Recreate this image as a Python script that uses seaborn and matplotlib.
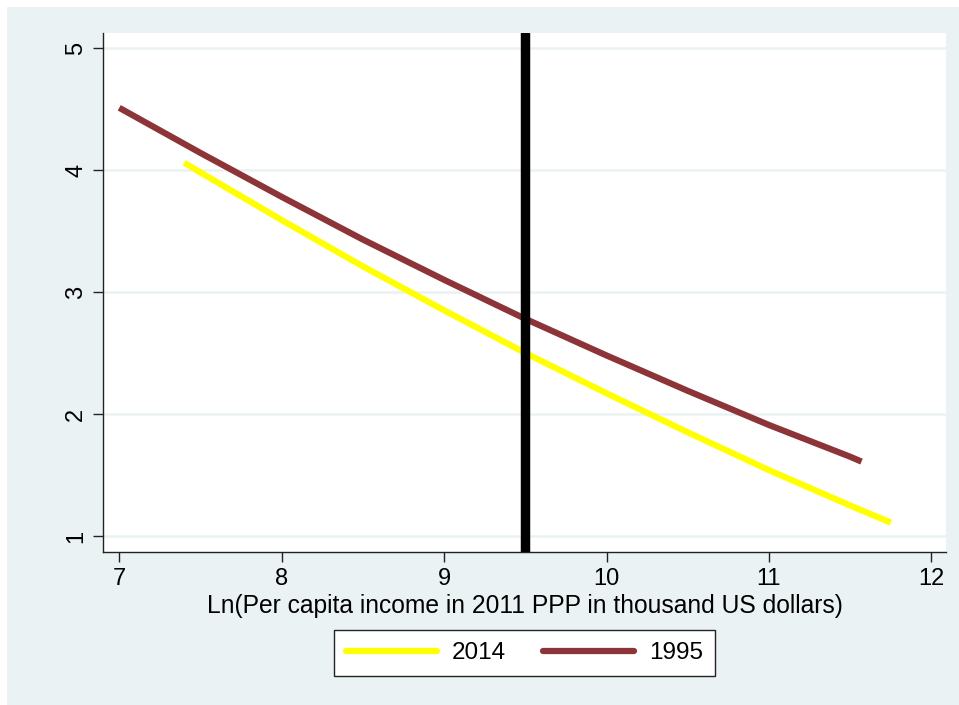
import numpy as np
import pandas as pd
import matplotlib
matplotlib.use("Agg")
import matplotlib.pyplot as plt
from matplotlib.patches import Rectangle
from matplotlib.lines import Line2D
import seaborn as sns

# Fitted curves: log per-capita income vs. outcome, by year
income_1995 = [7.00, 7.50, 8.00, 8.50, 9.00, 9.50, 10.00, 10.50, 11.00, 11.50, 11.57]
value_1995 = [4.51, 4.14, 3.78, 3.43, 3.10, 2.78, 2.48, 2.19, 1.91, 1.65, 1.61]

income_2014 = [7.40, 7.50, 8.00, 8.50, 9.00, 9.50, 10.00, 10.50, 11.00, 11.50, 11.75]
value_2014 = [4.06, 3.98, 3.59, 3.21, 2.85, 2.50, 2.17, 1.85, 1.54, 1.25, 1.11]

threshold = 9.5
x_ticks = [7, 8, 9, 10, 11, 12]
y_ticks = [1, 2, 3, 4, 5]
years = ["2014", "1995"]
colors = {"2014": "#FFFF00", "1995": "#8C3438"}

df = pd.concat([
    pd.DataFrame({"income": income_2014, "value": value_2014, "year": "2014"}),
    pd.DataFrame({"income": income_1995, "value": value_1995, "year": "1995"}),
])

sns.set_theme(style="white")
plt.rcParams["font.family"] = ["Liberation Sans", "DejaVu Sans"]
plt.rcParams["text.color"] = "black"
plt.rcParams["axes.labelcolor"] = "black"
plt.rcParams["xtick.color"] = "black"
plt.rcParams["ytick.color"] = "black"

W, H = 959, 705
fig = plt.figure(figsize=(W / 100, H / 100), dpi=100)
fig.patch.set_facecolor("white")
fig.patches.append(Rectangle((7 / W, 0), 1, (H - 7) / H, transform=fig.transFigure,
                             facecolor="#EAF2F3", edgecolor="none", zorder=-10))

ax = fig.add_axes([103 / W, 1 - 552 / H, (946 - 103) / W, (552 - 33) / H])
ax.set_zorder(1)
ax.set_facecolor("white")

sns.lineplot(data=df, x="income", y="value", hue="year", hue_order=years,
             palette=colors, linewidth=4.5, ax=ax, legend=False, sort=True,
             estimator=None, solid_capstyle="butt", solid_joinstyle="round", zorder=3)
ax.axvline(threshold, color="black", linewidth=6.8, zorder=4)

ax.set_xlim(6.90, 12.09)
ax.set_ylim(0.869, 5.123)
ax.set_xticks(x_ticks)
ax.set_yticks(y_ticks)
ax.set_xticklabels([str(t) for t in x_ticks], fontsize=17)
ax.set_yticklabels([str(t) for t in y_ticks], fontsize=17, rotation=90, va="center")
ax.tick_params(axis="both", direction="out", length=7.5, width=1.0, color="#222222",
               labelcolor="black", pad=4, left=True, bottom=True)
ax.grid(axis="y", color="#EAF2F3", linewidth=1.8, zorder=1)
ax.set_axisbelow(True)

for side in ["top", "right"]:
    ax.spines[side].set_visible(False)
for side in ["left", "bottom"]:
    ax.spines[side].set_color("#222222")
    ax.spines[side].set_linewidth(1.0)

ax.set_xlabel("Ln(Per capita income in 2011 PPP in thousand US dollars)",
              fontsize=17.7, labelpad=3, color="black")
ax.set_ylabel("")

handles = [Line2D([0], [0], color=colors[y], linewidth=4.5) for y in years]
leg = ax.legend(handles, years, loc="upper center", bbox_to_anchor=(0.5, -0.150),
                ncol=2, fontsize=17.5, frameon=True, fancybox=False,
                handlelength=3.75, handletextpad=0.62, columnspacing=1.5,
                borderpad=0.5, borderaxespad=0, labelcolor="black")
leg.get_frame().set_edgecolor("#222222")
leg.get_frame().set_linewidth(1.0)
leg.get_frame().set_facecolor("white")
leg.get_frame().set_alpha(1)

fig.savefig("out.png", dpi=100)
